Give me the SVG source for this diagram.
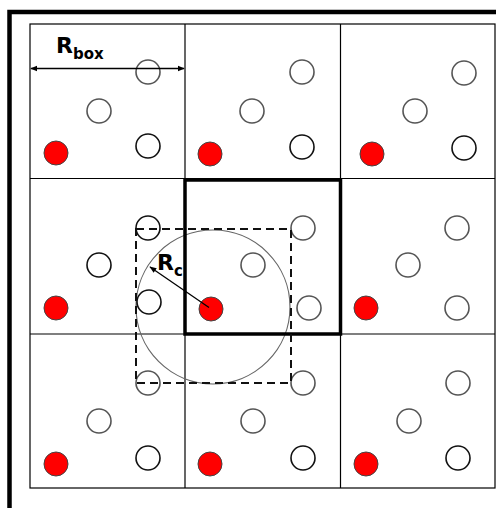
<svg xmlns="http://www.w3.org/2000/svg" width="496" height="508" viewBox="0 0 496 508">
<defs>
<style>
.frame{stroke:#000;stroke-width:4.5;fill:none}
.grid{stroke:#000;stroke-width:1.2;fill:none}
.thick{stroke:#000;stroke-width:3.5;fill:none}
.dash{stroke:#111;stroke-width:2;fill:none;stroke-dasharray:8,5}
.cut{stroke:#666;stroke-width:1.2;fill:none}
.g{fill:#fff;stroke:#555;stroke-width:1.6}
.b{fill:#fff;stroke:#111;stroke-width:1.6}
.r{fill:#ff0000;stroke:#444;stroke-width:1}
.lbl{font-family:"DejaVu Sans","Liberation Sans",sans-serif;font-weight:bold;fill:#000}
.arr{stroke:#000;stroke-width:1.3;fill:none}
</style>
<marker id="ah" viewBox="0 0 10 10" refX="9" refY="5" markerWidth="7" markerHeight="7" orient="auto-start-reverse" markerUnits="userSpaceOnUse">
<path d="M0,1 L10,5 L0,9 z" fill="#000"/>
</marker>
</defs>
<rect width="496" height="508" fill="#fff"/>
<g id="frame">
<path class="frame" d="M9.5,508 V12 H496"/>
</g>
<g id="grid">
<rect class="grid" x="30" y="24" width="465" height="464"/>
<line class="grid" x1="185" y1="24" x2="185" y2="488"/>
<line class="grid" x1="340.5" y1="24" x2="340.5" y2="488"/>
<line class="grid" x1="30" y1="178.5" x2="495" y2="178.5"/>
<line class="grid" x1="30" y1="334" x2="495" y2="334"/>
</g>
<g id="cutoff">
<circle class="cut" cx="213" cy="307" r="77"/>
</g>
<g id="cell-00">
<circle class="g" cx="148" cy="72" r="12"/>
<circle class="g" cx="99" cy="111" r="12"/>
<circle class="b" cx="148" cy="146" r="12"/>
<circle class="r" cx="56" cy="153" r="12"/>
</g>
<g id="cell-01">
<circle class="g" cx="302" cy="72" r="12"/>
<circle class="g" cx="252" cy="111" r="12"/>
<circle class="b" cx="302" cy="147" r="12"/>
<circle class="r" cx="210" cy="154" r="12"/>
</g>
<g id="cell-02">
<circle class="g" cx="464" cy="73" r="12"/>
<circle class="g" cx="415" cy="111" r="12"/>
<circle class="b" cx="464" cy="148" r="12"/>
<circle class="r" cx="372" cy="154" r="12"/>
</g>
<g id="cell-10">
<circle class="b" cx="148" cy="228" r="12"/>
<circle class="b" cx="99" cy="265" r="12"/>
<circle class="b" cx="149" cy="302" r="12"/>
<circle class="r" cx="56" cy="308" r="12"/>
</g>
<g id="cell-11">
<circle class="g" cx="303" cy="228" r="12"/>
<circle class="g" cx="253" cy="265" r="12"/>
<circle class="g" cx="309" cy="308" r="12"/>
<circle class="r" cx="211" cy="309" r="12"/>
</g>
<g id="cell-12">
<circle class="g" cx="457" cy="228" r="12"/>
<circle class="g" cx="408" cy="265" r="12"/>
<circle class="g" cx="457" cy="308" r="12"/>
<circle class="r" cx="366" cy="308" r="12"/>
</g>
<g id="cell-20">
<circle class="g" cx="148" cy="383" r="12"/>
<circle class="g" cx="99" cy="421" r="12"/>
<circle class="b" cx="148" cy="458" r="12"/>
<circle class="r" cx="56" cy="464" r="12"/>
</g>
<g id="cell-21">
<circle class="g" cx="303" cy="383" r="12"/>
<circle class="g" cx="253" cy="421" r="12"/>
<circle class="b" cx="303" cy="458" r="12"/>
<circle class="r" cx="210" cy="464" r="12"/>
</g>
<g id="cell-22">
<circle class="g" cx="458" cy="383" r="12"/>
<circle class="g" cx="409" cy="421" r="12"/>
<circle class="b" cx="458" cy="458" r="12"/>
<circle class="r" cx="366" cy="464" r="12"/>
</g>
<g id="highlight">
<rect class="thick" x="185" y="180" width="155.5" height="154"/>
<rect class="dash" x="136" y="229" width="155" height="154"/>
</g>
<g id="connectors">
<line class="arr" x1="31" y1="68.5" x2="184" y2="68.5" marker-start="url(#ah)" marker-end="url(#ah)"/>
<line class="arr" x1="209" y1="307.5" x2="150" y2="267" marker-end="url(#ah)"/>
</g>
<g id="labels">
<text class="lbl" x="56" y="53" font-size="22">R<tspan font-size="15" dy="6">box</tspan></text>
<text class="lbl" x="157" y="270" font-size="22">R<tspan font-size="15" dy="6">c</tspan></text>
</g>
</svg>
